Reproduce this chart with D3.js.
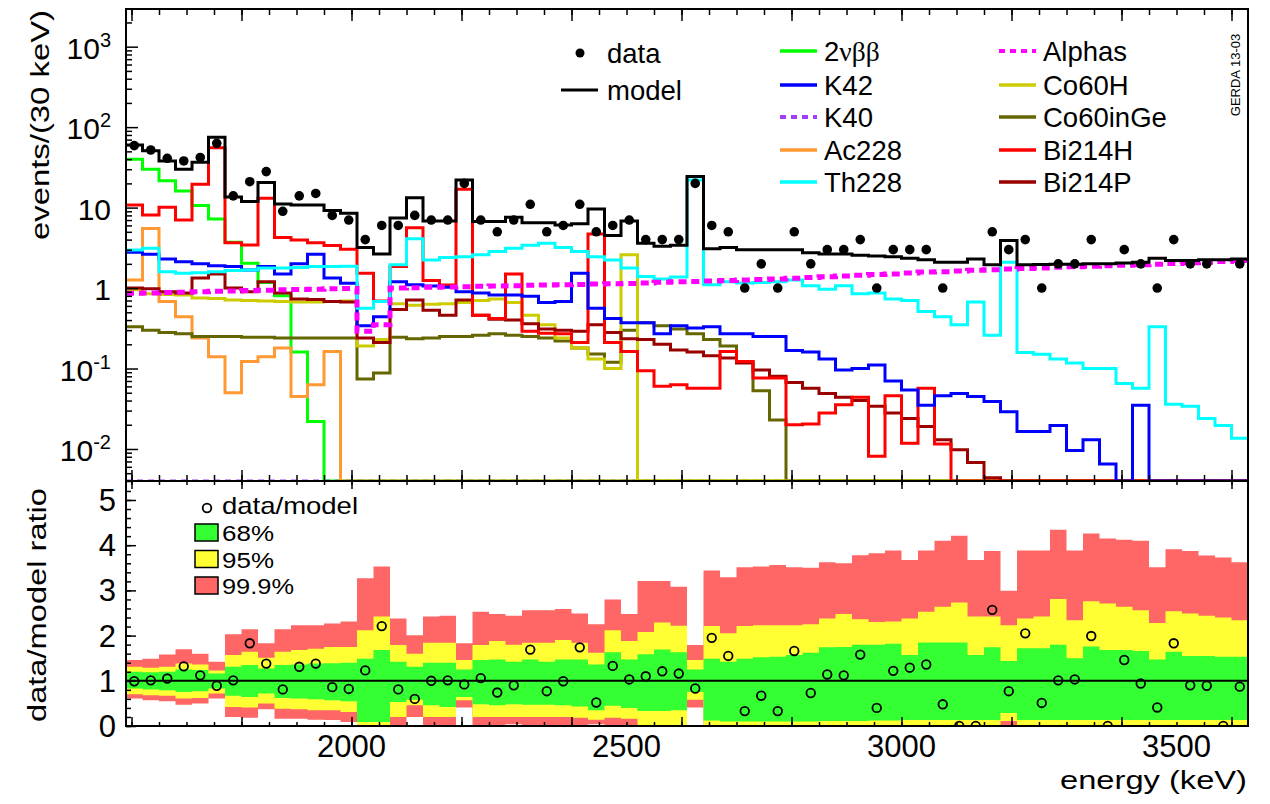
<!DOCTYPE html>
<html>
<head>
<meta charset="utf-8">
<script src="https://cdn.jsdelivr.net/npm/d3@7"></script>
<style>
body { margin: 0; background: #fff; }
text { font-family: "Liberation Sans", Arial, Helvetica, sans-serif; fill: #000; }
</style>
</head>
<body>
<svg id="chart" width="1270" height="804"></svg>
<script>
//--------------------------------- Data ---------------------------------------

var eMin = 1590, eMax = 3630, binWidth = 30, nBins = 68;
var binStart = d3.range(nBins).map(function(i) { return eMin + i * binWidth; });

//observed counts per 30 keV bin
var dataCounts = [59,52,41,38,42,63,14,21,28,9, 14,15,8,7,4,6,6,8,7,7,
	20,7,5,7,11,5,6,11,5,6, 7,4,4,4,20,6,5,1,2,1, 5,2,3,3,4,1,3,3,3,1,
	0,0,5,3,4,1,2,2,4,0, 3,2,1,4,2,2,0,2];

//total model
var modelTotal = [60,51,38,30,36.6,75,13.5,11.9,20.5,11.1, 10.8,10.8,9.2,8.5,3.2,2.66,7.4,13.3,6.8,6.8,
	22,6.7,6.7,7.6,6.5,6.5,6.1,6.3,9.6,4.5, 6.8,3.6,3.3,3.4,24.3,3.08,3.2,3.0,3.0,3.0,
	3.0,2.75,2.65,2.65,2.55,2.5,2.45,2.35,2.25,2.1, 2.1,2.3,1.95,3.9,1.95,1.96,1.98,1.97,2.0,2.0,
	2.05,2.1,2.35,2.2,2.2,2.25,2.25,2.3];

//model components
var twoNuBB = [40,30,21.6,16.1,10.6,7.2,3.7,2.04,1.17,0.80, 0.16,0.022,0,0,0,0,0,0,0,0,
	0,0,0,0,0,0,0,0,0,0, 0,0,0,0,0,0,0,0,0,0, 0,0,0,0,0,0,0,0,0,0,
	0,0,0,0,0,0,0,0,0,0, 0,0,0,0,0,0,0,0];
var k42 = [2.79,2.64,2.29,2.13,2.0,1.9,1.85,1.68,1.85,1.5, 2.0,2.64,1.33,1.15,0.34,0.44,1.2,1.1,1.06,1.02,
	0.9,0.87,0.82,0.82,0.79,0.66,0.68,1.53,0.56,0.42, 0.37,0.37,0.27,0.34,0.32,0.33,0.27,0.27,0.25,0.25,
	0.168,0.16,0.131,0.096,0.1,0.111,0.07,0.054,0.035,0.046, 0.049,0.045,0.039,0.029,0.0165,0.0165,0.0196,0.0096,0.013,0.0065,
	0,0.035,0,0,0,0,0,0];
var k40 = [0,0,0,0,0,0,0,0,0,0, 0,0,0,0,0,0,0,0,0,0, 0,0,0,0,0,0,0,0,0,0, 0,0,0,0,0,0,0,0,0,0,
	0,0,0,0,0,0,0,0,0,0, 0,0,0,0,0,0,0,0,0,0, 0,0,0,0,0,0,0,0];
var ac228 = [1.26,5.5,0.68,0.44,0.24,0.14,0.05,0.122,0.14,0.18, 0.045,0.063,0.163,0,0,0,0,0,0,0,
	0,0,0,0,0,0,0,0,0,0, 0,0,0,0,0,0,0,0,0,0, 0,0,0,0,0,0,0,0,0,0,
	0,0,0,0,0,0,0,0,0,0, 0,0,0,0,0,0,0,0];
var th228 = [2.98,3.13,1.6,1.53,1.55,1.6,1.65,1.68,1.77,1.77, 1.8,1.85,1.85,1.87,0.56,0.68,1.95,4.1,2.24,2.4,
	2.45,2.6,2.85,3.13,3.4,3.6,3.2,2.85,2.45,2.24, 1.77,1.39,1.3,1.37,22,1.1,1.2,1.16,1.17,1.2,
	1.26,1.07,0.97,1.07,0.85,0.87,0.73,0.7,0.51,0.44, 0.35,0.67,0.26,2.1,0.158,0.15,0.131,0.117,0.10,0.10,
	0.065,0.057,0.33,0.036,0.034,0.024,0.0196,0.0136];
var alphas = [0.86,0.87,0.88,0.89,0.90,0.91,0.92,0.93,0.94,0.95, 0.96,0.97,0.98,0.99,0.29,0.35,1.0,1.01,1.02,1.03,
	1.04,1.05,1.06,1.07,1.08,1.09,1.1,1.11,1.12,1.13, 1.14,1.16,1.18,1.2,1.21,1.22,1.24,1.26,1.28,1.3,
	1.32,1.35,1.38,1.41,1.44,1.47,1.5,1.54,1.58,1.6, 1.63,1.66,1.69,1.72,1.75,1.78,1.81,1.84,1.87,1.9,
	1.92,1.95,1.98,2.02,2.06,2.1,2.14,2.2];
var co60H = [0.95,0.85,0.83,0.82,0.75,0.74,0.71,0.70,0.69,0.68, 0.67,0.67,0.68,0.69,0.19,0.23,0.64,0.61,0.63,0.64,
	0.66,0.70,0.73,0.66,0.46,0.35,0.24,0.18,0.131,0.10, 2.6,0,0,0,0,0,0,0,0,0,
	0,0,0,0,0,0,0,0,0,0, 0,0,0,0,0,0,0,0,0,0, 0,0,0,0,0,0,0,0];
var co60inGe = [0.33,0.30,0.28,0.27,0.25,0.25,0.25,0.245,0.245,0.24, 0.24,0.24,0.24,0.24,0.074,0.088,0.245,0.235,0.24,0.25,
	0.25,0.26,0.27,0.26,0.25,0.24,0.22,0.18,0.152,0.12, 0.30,0.37,0.34,0.31,0.27,0.23,0.19,0.122,0.053,0.023,
	0,0,0,0,0,0,0,0,0,0, 0,0,0,0,0,0,0,0,0,0, 0,0,0,0,0,0,0,0];
var bi214H = [10.8,8.1,10.1,7.0,19.5,55.6,3.67,3.44,13.1,4.24, 3.97,3.67,3.37,3.04,1.53,0.69,1.85,5.6,1.24,1.09,
	16.9,0.46,0.42,1.5,0.29,0.275,0.27,0.21,4.7,0.21, 0.163,0.094,0.06,0.063,0.057,0.057,0.163,0.122,0.076,0.076,
	0.02,0.0205,0.028,0.0354,0.044,0.0081,0.046,0.0118,0.057,0.0115, 0,0,0,0,0,0,0,0,0,0,
	0,0,0,0,0,0,0,0];
var bi214P = [1.0,0.98,0.9,0.87,1.33,1.5,1.0,0.9,1.2,0.87, 0.73,0.72,0.68,0.67,0.24,0.21,0.54,0.71,0.53,0.46,
	0.71,0.46,0.41,0.40,0.36,0.31,0.30,0.29,0.35,0.28, 0.234,0.23,0.20,0.17,0.16,0.144,0.135,0.117,0.096,0.08,
	0.067,0.057,0.049,0.044,0.04,0.034,0.028,0.024,0.019,0.013, 0.0098,0.0068,0.0044,0,0,0,0,0,0,0,
	0,0,0,0,0,0,0,0];

//data/model ratio and the 68/95/99.9% intervals
var ratio = [0.99,1.01,1.05,1.32,1.12,0.89,1.01,1.83,1.38,0.81, 1.31,1.38,0.86,0.82,1.23,2.21,0.81,0.60,1.0,1.01,
	0.92,1.06,0.74,0.90,1.69,0.77,0.99,1.74,0.52,1.33, 1.03,1.10,1.21,1.16,0.83,1.95,1.55,0.33,0.67,0.33,
	1.66,0.73,1.14,1.12,1.58,0.40,1.22,1.29,1.36,0.48, 0,0,2.57,0.77,2.05,0.51,1.01,1.03,1.99,0,
	1.46,0.94,0.41,1.83,0.90,0.89,0,0.87];
var band999Hi = [1.46,1.49,1.58,1.70,1.60,1.42,2.03,2.14,1.83,2.14, 2.23,2.23,2.27,2.31,3.27,3.53,2.38,2.01,2.42,2.44,
	1.83,2.53,2.48,2.44,2.56,2.56,2.59,2.49,2.25,2.80, 2.48,3.21,3.21,3.08,1.79,3.44,3.29,3.51,3.53,3.56,
	3.51,3.50,3.62,3.60,3.78,3.82,3.88,3.67,3.88,4.10, 4.21,3.67,3.87,2.99,3.88,3.88,4.34,3.88,4.26,4.15,
	4.12,4.10,3.51,3.91,3.87,3.77,3.73,3.62];
var band95Hi = [1.31,1.29,1.31,1.38,1.36,1.23,1.57,1.64,1.51,1.64, 1.68,1.71,1.75,1.75,2.12,2.42,1.79,1.60,1.84,1.84,
	1.46,1.79,1.88,1.80,1.84,1.84,1.90,1.84,1.62,2.12, 1.88,2.08,2.29,2.22,1.46,2.21,2.05,2.21,2.23,2.23,
	2.23,2.25,2.38,2.48,2.36,2.30,2.31,2.38,2.53,2.64, 2.73,2.42,2.42,2.23,2.38,2.42,2.81,2.34,2.76,2.71,
	2.64,2.56,2.28,2.54,2.49,2.44,2.40,2.34];
var band68Hi = [1.20,1.19,1.20,1.25,1.24,1.16,1.31,1.35,1.27,1.35, 1.36,1.38,1.39,1.40,1.49,1.68,1.42,1.31,1.40,1.40,
	1.25,1.46,1.47,1.42,1.47,1.42,1.47,1.47,1.36,1.63, 1.47,1.59,1.69,1.63,1.25,1.49,1.42,1.49,1.52,1.53,
	1.57,1.62,1.74,1.75,1.80,1.80,1.82,1.57,1.85,1.85, 1.85,1.57,1.74,1.44,1.72,1.72,1.80,1.50,1.76,1.68,
	1.68,1.66,1.47,1.64,1.55,1.55,1.53,1.53];
var band68Lo = [0.83,0.81,0.79,0.75,0.77,0.83,0.67,0.64,0.72,0.62, 0.61,0.59,0.57,0.55,0.09,0.09,0.53,0.58,0.46,0.42,
	0.64,0.48,0.46,0.48,0.47,0.47,0.46,0.43,0.35,0.45, 0.40,0.33,0.33,0.35,0.75,0.12,0.10,0.10,0.10,0.10,
	0.10,0.10,0.11,0.11,0.11,0.12,0.12,0.13,0.13,0.13, 0.13,0.13,0.13,0.29,0.13,0.13,0.13,0.13,0.13,0.13,
	0.13,0.13,0.13,0.13,0.13,0.13,0.13,0.13];
var band95Lo = [0.70,0.68,0.67,0.61,0.62,0.72,0.42,0.41,0.50,0.38, 0.37,0.35,0.35,0.31,0,0,0.20,0.46,0.20,0.20,
	0.57,0.20,0.20,0.20,0.20,0.20,0.20,0.18,0.14,0.18, 0.16,0,0,0,0.58,0,0,0,0,0,
	0,0,0,0,0,0,0,0,0,0, 0,0,0,0.11,0,0,0,0,0,0, 0,0,0,0,0,0,0,0];
var band999Lo = [0.61,0.57,0.55,0.47,0.50,0.61,0.20,0.18,0.37,0.16, 0.16,0.14,0.13,0.09,0,0,0,0.20,0,0,
	0.41,0,0,0.04,0,0,0,0,0.04,0, 0,0,0,0,0.41,0,0,0,0,0,
	0,0,0,0,0,0,0,0,0,0, 0,0,0,0,0,0,0,0,0,0, 0,0,0,0,0,0,0,0];

//tick labels
var xLabels = [2000, 2500, 3000, 3500];
var ratioLabels = [0, 1, 2, 3, 4, 5];
var logLabels = [
	{v: 1000, base: "10", sup: "3"},
	{v: 100, base: "10", sup: "2"},
	{v: 10, base: "10", sup: ""},
	{v: 1, base: "1", sup: ""},
	{v: 0.1, base: "10", sup: "-1"},
	{v: 0.01, base: "10", sup: "-2"}
];

//--------------------------------- Set up svg and scales ---------------------------------------

var plotLeft = 126, plotRight = 1248;
var topY0 = 9, topY1 = 481, botY1 = 726;
var yFloor = 0.004;

var svg = d3.select("#chart");

var x = d3.scaleLinear().domain([eMin, eMax]).range([plotLeft, plotRight]);
var y = d3.scaleLog().domain([yFloor, 2940]).range([topY1, topY0]);
var yR = d3.scaleLinear().domain([0, 5.42]).range([botY1, topY1]);

var defs = svg.append("defs");
defs.append("clipPath").attr("id", "clipTop").append("rect")
	.attr("x", plotLeft).attr("y", topY0)
	.attr("width", plotRight - plotLeft).attr("height", topY1 - topY0);
defs.append("clipPath").attr("id", "clipBot").append("rect")
	.attr("x", plotLeft).attr("y", topY1)
	.attr("width", plotRight - plotLeft).attr("height", botY1 - topY1);

//histogram as steps, one point per bin start plus the upper edge
function stepPoints(vals) {
	var pts = vals.map(function(v, i) { return [binStart[i], v]; });
	pts.push([eMax, vals[vals.length - 1]]);
	return pts;
}
var stepLine = d3.line()
	.x(function(d) { return x(d[0]); })
	.y(function(d) { return y(Math.max(d[1], yFloor)); })
	.curve(d3.curveStepAfter);

//---------------------------------------- Top panel ------------------------------------------------

var components = [
	{name: "K40", values: k40, color: "#a040ff", dash: "6,5", width: 3},
	{name: "2nbb", values: twoNuBB, color: "#00ff00", dash: null, width: 3},
	{name: "Ac228", values: ac228, color: "#ff9933", dash: null, width: 3},
	{name: "Co60inGe", values: co60inGe, color: "#666600", dash: null, width: 3},
	{name: "Co60H", values: co60H, color: "#cccc00", dash: null, width: 3},
	{name: "Bi214P", values: bi214P, color: "#990000", dash: null, width: 3},
	{name: "Bi214H", values: bi214H, color: "#ff0000", dash: null, width: 3},
	{name: "K42", values: k42, color: "#0000ff", dash: null, width: 3},
	{name: "Th228", values: th228, color: "#00ffff", dash: null, width: 3},
	{name: "Alphas", values: alphas, color: "#ff00ff", dash: "8,5", width: 5}
];

var topG = svg.append("g").attr("clip-path", "url(#clipTop)");

topG.selectAll(".compLine")
	.data(components)
	.enter().append("path")
	.attr("class", "compLine")
	.attr("d", function(d) { return stepLine(stepPoints(d.values)); })
	.attr("fill", "none")
	.attr("stroke", function(d) { return d.color; })
	.attr("stroke-width", function(d) { return d.width; })
	.attr("stroke-dasharray", function(d) { return d.dash; });

topG.append("path")
	.attr("d", stepLine(stepPoints(modelTotal)))
	.attr("fill", "none")
	.attr("stroke", "#000")
	.attr("stroke-width", 3);

topG.selectAll(".dataDot")
	.data(dataCounts.map(function(c, i) { return {e: binStart[i] + binWidth / 2, c: c}; })
		.filter(function(d) { return d.c > 0; }))
	.enter().append("circle")
	.attr("class", "dataDot")
	.attr("cx", function(d) { return x(d.e); })
	.attr("cy", function(d) { return y(d.c); })
	.attr("r", 4.8)
	.attr("fill", "#000");

//---------------------------------------- Ratio panel ------------------------------------------------

var botG = svg.append("g").attr("clip-path", "url(#clipBot)");

var bandArea = d3.area()
	.x(function(d) { return x(d[0]); })
	.y0(function(d) { return yR(d[1]); })
	.y1(function(d) { return yR(d[2]); })
	.curve(d3.curveStepAfter);

function bandPoints(lo, hi) {
	var pts = lo.map(function(v, i) { return [binStart[i], v, hi[i]]; });
	pts.push([eMax, lo[lo.length - 1], hi[hi.length - 1]]);
	return pts;
}

var bands = [
	{label: "99.9%", lo: band999Lo, hi: band999Hi, color: "#ff6666", tl: 72},
	{label: "95%", lo: band95Lo, hi: band95Hi, color: "#ffff33", tl: 52},
	{label: "68%", lo: band68Lo, hi: band68Hi, color: "#33ff33", tl: 52}
];

botG.selectAll(".band")
	.data(bands)
	.enter().append("path")
	.attr("class", "band")
	.attr("d", function(d) { return bandArea(bandPoints(d.lo, d.hi)); })
	.attr("fill", function(d) { return d.color; });

botG.append("line")
	.attr("x1", plotLeft).attr("x2", plotRight)
	.attr("y1", yR(1)).attr("y2", yR(1))
	.attr("stroke", "#000").attr("stroke-width", 2);

botG.selectAll(".ratioDot")
	.data(ratio)
	.enter().append("circle")
	.attr("class", "ratioDot")
	.attr("cx", function(d, i) { return x(binStart[i] + binWidth / 2); })
	.attr("cy", function(d) { return yR(d); })
	.attr("r", 4.3)
	.attr("fill", "none")
	.attr("stroke", "#000")
	.attr("stroke-width", 1.8);

//---------------------------------------- Frames and ticks ------------------------------------------------

svg.append("rect")
	.attr("x", plotLeft).attr("y", topY0)
	.attr("width", plotRight - plotLeft).attr("height", topY1 - topY0)
	.attr("fill", "none").attr("stroke", "#000").attr("stroke-width", 2);
svg.append("rect")
	.attr("x", plotLeft).attr("y", topY1)
	.attr("width", plotRight - plotLeft).attr("height", botY1 - topY1)
	.attr("fill", "none").attr("stroke", "#000").attr("stroke-width", 2);

var xMinor = d3.range(1600, 3601, 50);
var xMajor = d3.range(1600, 3601, 200);
var logMajor = [0.01, 0.1, 1, 10, 100, 1000];
var logMinor = [];
[0.001, 0.01, 0.1, 1, 10, 100, 1000].forEach(function(dec) {
	for (var k = 2; k <= 9; k++) {
		var v = k * dec;
		if (v >= yFloor && v <= 2940) logMinor.push(v);
	}
});
var rMajor = ratioLabels;
var rMinor = d3.range(0, 27).map(function(i) { return i * 0.2; });

function ticks(axisFn, scale, values, size, tx, ty) {
	var g = svg.append("g")
		.attr("transform", "translate(" + tx + "," + ty + ")")
		.call(axisFn(scale).tickValues(values).tickSize(size).tickFormat(""));
	g.select(".domain").remove();
	g.selectAll("line").attr("stroke", "#000").attr("stroke-width", 1.5);
}

//top panel
ticks(d3.axisBottom, x, xMinor, 6, 0, topY0);
ticks(d3.axisBottom, x, xMajor, 12, 0, topY0);
ticks(d3.axisTop, x, xMinor, 6, 0, topY1);
ticks(d3.axisTop, x, xMajor, 11, 0, topY1);
ticks(d3.axisRight, y, logMinor, 6, plotLeft, 0);
ticks(d3.axisRight, y, logMajor, 12, plotLeft, 0);
//ratio panel
ticks(d3.axisBottom, x, xMinor, 4, 0, topY1);
ticks(d3.axisBottom, x, xMajor, 8, 0, topY1);
ticks(d3.axisTop, x, xMinor, 4, 0, botY1);
ticks(d3.axisTop, x, xMajor, 9, 0, botY1);
ticks(d3.axisRight, yR, rMinor, 5, plotLeft, 0);
ticks(d3.axisRight, yR, rMajor, 10, plotLeft, 0);

//---------------------------------------- Tick labels and titles ------------------------------------------------

svg.selectAll(".xLabel")
	.data(xLabels)
	.enter().append("text")
	.attr("class", "xLabel")
	.attr("x", function(d) { return x(d); })
	.attr("y", 757)
	.attr("text-anchor", "middle")
	.style("font-size", "31px")
	.text(function(d) { return d; });

svg.selectAll(".rLabel")
	.data(ratioLabels)
	.enter().append("text")
	.attr("class", "rLabel")
	.attr("x", 116)
	.attr("y", function(d) { return yR(d) + 11; })
	.attr("text-anchor", "end")
	.style("font-size", "31px")
	.text(function(d) { return d; });

var logText = svg.selectAll(".yLabel")
	.data(logLabels)
	.enter().append("text")
	.attr("class", "yLabel")
	.attr("x", 111)
	.attr("y", function(d) { return y(d.v) + 12; })
	.attr("text-anchor", "end")
	.style("font-size", "30px");
logText.append("tspan").text(function(d) { return d.base; });
logText.filter(function(d) { return d.sup !== ""; })
	.append("tspan")
	.attr("dy", -12)
	.style("font-size", "20px")
	.text(function(d) { return d.sup; });

svg.append("text")
	.attr("transform", "translate(49,10) rotate(-90)")
	.attr("text-anchor", "end")
	.attr("textLength", 230).attr("lengthAdjust", "spacingAndGlyphs")
	.style("font-size", "25px")
	.text("events/(30 keV)");

svg.append("text")
	.attr("transform", "translate(46,488) rotate(-90)")
	.attr("text-anchor", "end")
	.attr("textLength", 234).attr("lengthAdjust", "spacingAndGlyphs")
	.style("font-size", "25px")
	.text("data/model ratio");

svg.append("text")
	.attr("x", 1247).attr("y", 789)
	.attr("text-anchor", "end")
	.attr("textLength", 187).attr("lengthAdjust", "spacingAndGlyphs")
	.style("font-size", "25px")
	.text("energy (keV)");

svg.append("text")
	.attr("transform", "translate(1240,75) rotate(-90)")
	.attr("text-anchor", "middle")
	.style("font-size", "13px")
	.text("GERDA 13-03");

//---------------------------------------- Legends ------------------------------------------------

var legFont = "27.5px";

svg.append("circle").attr("cx", 580).attr("cy", 53).attr("r", 4.5).attr("fill", "#000");
svg.append("text").attr("x", 607).attr("y", 63).style("font-size", legFont).text("data");
svg.append("line").attr("x1", 561).attr("x2", 598).attr("y1", 90).attr("y2", 90)
	.attr("stroke", "#000").attr("stroke-width", 3);
svg.append("text").attr("x", 607).attr("y", 100).style("font-size", legFont).text("model");

var legendItems = [
	{label: "2νββ", comp: "2nbb", col: 0, row: 0},
	{label: "K42", comp: "K42", col: 0, row: 1},
	{label: "K40", comp: "K40", col: 0, row: 2},
	{label: "Ac228", comp: "Ac228", col: 0, row: 3},
	{label: "Th228", comp: "Th228", col: 0, row: 4},
	{label: "Alphas", comp: "Alphas", col: 1, row: 0},
	{label: "Co60H", comp: "Co60H", col: 1, row: 1},
	{label: "Co60inGe", comp: "Co60inGe", col: 1, row: 2},
	{label: "Bi214H", comp: "Bi214H", col: 1, row: 3},
	{label: "Bi214P", comp: "Bi214P", col: 1, row: 4}
];
var colX = [780, 999];
var rowY = [51, 85, 117, 150, 182];
var compByName = {};
components.forEach(function(c) { compByName[c.name] = c; });

var legG = svg.selectAll(".legItem")
	.data(legendItems)
	.enter().append("g")
	.attr("class", "legItem")
	.attr("transform", function(d) { return "translate(" + colX[d.col] + "," + rowY[d.row] + ")"; });
legG.append("line")
	.attr("x1", 0).attr("x2", 37).attr("y1", 0).attr("y2", 0)
	.attr("stroke", function(d) { return compByName[d.comp].color; })
	.attr("stroke-width", function(d) { return compByName[d.comp].dash ? 4 : 3.5; })
	.attr("stroke-dasharray", function(d) { return compByName[d.comp].dash ? "6,5" : null; });
var legText = legG.append("text")
	.attr("x", 44).attr("y", 10)
	.style("font-size", legFont);
legText.filter(function(d) { return d.comp !== "2nbb"; }).text(function(d) { return d.label; });
var nbbText = legText.filter(function(d) { return d.comp === "2nbb"; });
nbbText.append("tspan").text("2");
nbbText.append("tspan").style("font-family", "'Liberation Serif', 'DejaVu Serif', serif").text("νββ");

//ratio legend
svg.append("circle").attr("cx", 207).attr("cy", 508).attr("r", 4.3)
	.attr("fill", "none").attr("stroke", "#000").attr("stroke-width", 1.8);
svg.append("text").attr("x", 222).attr("y", 514)
	.attr("textLength", 136).attr("lengthAdjust", "spacingAndGlyphs")
	.style("font-size", "24px").text("data/model");

var bandLegend = svg.selectAll(".bandLeg")
	.data(bands.slice().reverse())
	.enter().append("g")
	.attr("class", "bandLeg")
	.attr("transform", function(d, i) { return "translate(195," + (524 + i * 26.5) + ")"; });
bandLegend.append("rect")
	.attr("width", 23).attr("height", 17)
	.attr("fill", function(d) { return d.color; })
	.attr("stroke", "#000").attr("stroke-width", 1.5);
bandLegend.append("text")
	.attr("x", 27).attr("y", 17)
	.attr("textLength", function(d) { return d.tl; }).attr("lengthAdjust", "spacingAndGlyphs")
	.style("font-size", "22.5px")
	.text(function(d) { return d.label; });
</script>
</body>
</html>
